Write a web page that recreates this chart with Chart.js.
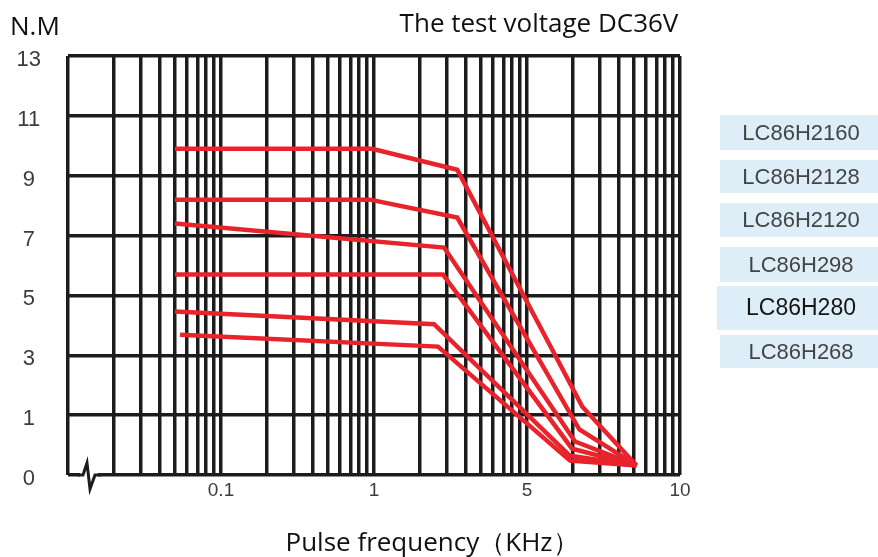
<!DOCTYPE html>
<html>
<head>
<meta charset="utf-8">
<script src="https://cdn.jsdelivr.net/npm/chart.js@4.4.1/dist/chart.umd.min.js"></script>
<style>
  html, body { margin: 0; padding: 0; background: #fff; }
</style>
</head>
<body>
<canvas id="torque-chart" width="878" height="557"></canvas>
<script>
// motor names, top curve to bottom curve
const seriesNames = ['LC86H2160', 'LC86H2128', 'LC86H2120', 'LC86H298', 'LC86H280', 'LC86H268'];

// pulse frequency (KHz) and torque (N.M)
const freq2160 = [0.05, 0.97, 3.5, 23, 52];
const torque2160 = [9.9, 9.9, 9.2, 1.28, 0.16];
const freq2128 = [0.05, 0.94, 3.5, 22, 52];
const torque2128 = [8.2, 8.2, 7.6, 0.76, 0.16];
const freq2120 = [0.05, 2.87, 20.6, 52];
const torque2120 = [7.4, 6.6, 0.56, 0.16];
const freq298 = [0.05, 2.82, 19.7, 52];
const torque298 = [5.7, 5.7, 0.44, 0.16];
const freq280 = [0.05, 2.47, 19.1, 52];
const torque280 = [4.46, 4.04, 0.32, 0.16];
const freq268 = [0.054, 2.62, 19.1, 52];
const torque268 = [3.69, 3.29, 0.24, 0.16];

const allFreqs = [freq2160, freq2128, freq2120, freq298, freq280, freq268];
const allTorques = [torque2160, torque2128, torque2120, torque298, torque280, torque268];

// axis ticks
const yTicks = [0, 1, 3, 5, 7, 9, 11, 13];
const xTickValues = [0.1, 1, 10, 100];
const xTickLabels = ['0.1', '1', '5', '10'];

// vertical log grid: every 1..9 step of each decade
const gridFreqs = [];
[0.01, 0.1, 1, 10].forEach(d => {
  for (let k = 1; k <= 9; k++) gridFreqs.push(+(k * d).toPrecision(3));
});
gridFreqs.push(100);

// the torque axis is evenly spaced per label: 0,1,3,5,...,13
class TorqueScale extends Chart.LinearScale {
  getPixelForValue(v) {
    if (v === null || v === undefined || isNaN(v)) return NaN;
    const level = v <= 1 ? v : (v + 1) / 2;
    return this.getPixelForDecimal(level / 7);
  }
  getValueForPixel(px) {
    const level = this.getDecimalForPixel(px) * 7;
    return level <= 1 ? level : level * 2 - 1;
  }
}
TorqueScale.id = 'torque';
TorqueScale.defaults = Chart.LinearScale.defaults;
Chart.register(TorqueScale);

const gridColor = '#1c1c1c';
const lineRed = '#e8232b';
const labelGrey = '#3c3c3c';

const decor = {
  id: 'decor',
  afterDraw(chart) {
    const ctx = chart.ctx;
    ctx.save();

    // axis break on the bottom line
    ctx.fillStyle = '#fff';
    ctx.fillRect(80, 472, 18, 8);
    ctx.strokeStyle = gridColor;
    ctx.lineWidth = 3;
    ctx.lineJoin = 'miter';
    ctx.beginPath();
    ctx.moveTo(78, 475);
    ctx.lineTo(83, 475);
    ctx.lineTo(87, 463);
    ctx.lineTo(90, 489);
    ctx.lineTo(95, 475);
    ctx.lineTo(101, 475);
    ctx.stroke();

    // texts
    ctx.fillStyle = '#111';
    ctx.font = '26px "Open Sans"';
    ctx.textBaseline = 'alphabetic';
    ctx.textAlign = 'left';
    ctx.fillText('N.M', 10, 35);
    ctx.textAlign = 'center';
    ctx.fillText('The test voltage DC36V', 539, 32);
    ctx.fillText('Pulse frequency（KHz）', 432, 551);

    // name boxes on the right
    const boxes = [[720, 115, 35], [720, 160, 33], [720, 203, 34], [720, 247, 35], [717, 286, 44], [720, 335, 33]];
    ctx.textBaseline = 'middle';
    seriesNames.forEach((name, i) => {
      const [bx, by, bh] = boxes[i];
      ctx.fillStyle = '#ddeef9';
      ctx.fillRect(bx, by, 878 - bx, bh);
      ctx.fillStyle = i === 4 ? '#151515' : '#444';
      ctx.font = (i === 4 ? '23px' : '22px') + ' "Liberation Sans"';
      ctx.fillText(name, 801, by + bh / 2 + 1);
    });
    ctx.restore();
  }
};

const chart = new Chart(document.getElementById('torque-chart'), {
  type: 'line',
  data: {
    datasets: seriesNames.map((name, i) => ({
      label: name,
      data: allFreqs[i].map((f, j) => ({ x: f, y: allTorques[i][j] })),
      borderColor: lineRed,
      borderWidth: 4.5,
      pointRadius: 0,
      tension: 0,
      fill: false
    }))
  },
  options: {
    responsive: false,
    animation: false,
    events: [],
    layout: { padding: { top: 56, right: 198, left: 0, bottom: 0 } },
    plugins: {
      legend: { display: false },
      tooltip: { enabled: false }
    },
    scales: {
      x: {
        type: 'logarithmic',
        min: 0.01,
        max: 100,
        afterBuildTicks: axis => { axis.ticks = gridFreqs.map(v => ({ value: v })); },
        afterFit: s => { s.height = 82; },
        grid: { color: gridColor, lineWidth: 3.5, drawTicks: false },
        border: { display: false },
        ticks: {
          autoSkip: false,
          maxRotation: 0,
          padding: 4,
          color: labelGrey,
          font: { family: 'Liberation Sans', size: 19 },
          callback: v => {
            const i = xTickValues.findIndex(t => Math.abs(t - v) < t * 1e-6);
            return i >= 0 ? xTickLabels[i] : '';
          }
        }
      },
      y: {
        type: 'torque',
        min: 0,
        max: 13,
        afterBuildTicks: axis => { axis.ticks = yTicks.map(v => ({ value: v })); },
        afterFit: s => { s.width = 68; },
        grid: { color: gridColor, lineWidth: 3.5, drawTicks: false },
        border: { display: false },
        ticks: {
          padding: 27,
          crossAlign: 'center',
          labelOffset: 4,
          color: labelGrey,
          font: { family: 'Liberation Sans', size: 22 }
        }
      }
    }
  },
  plugins: [decor]
});
</script>
</body>
</html>
